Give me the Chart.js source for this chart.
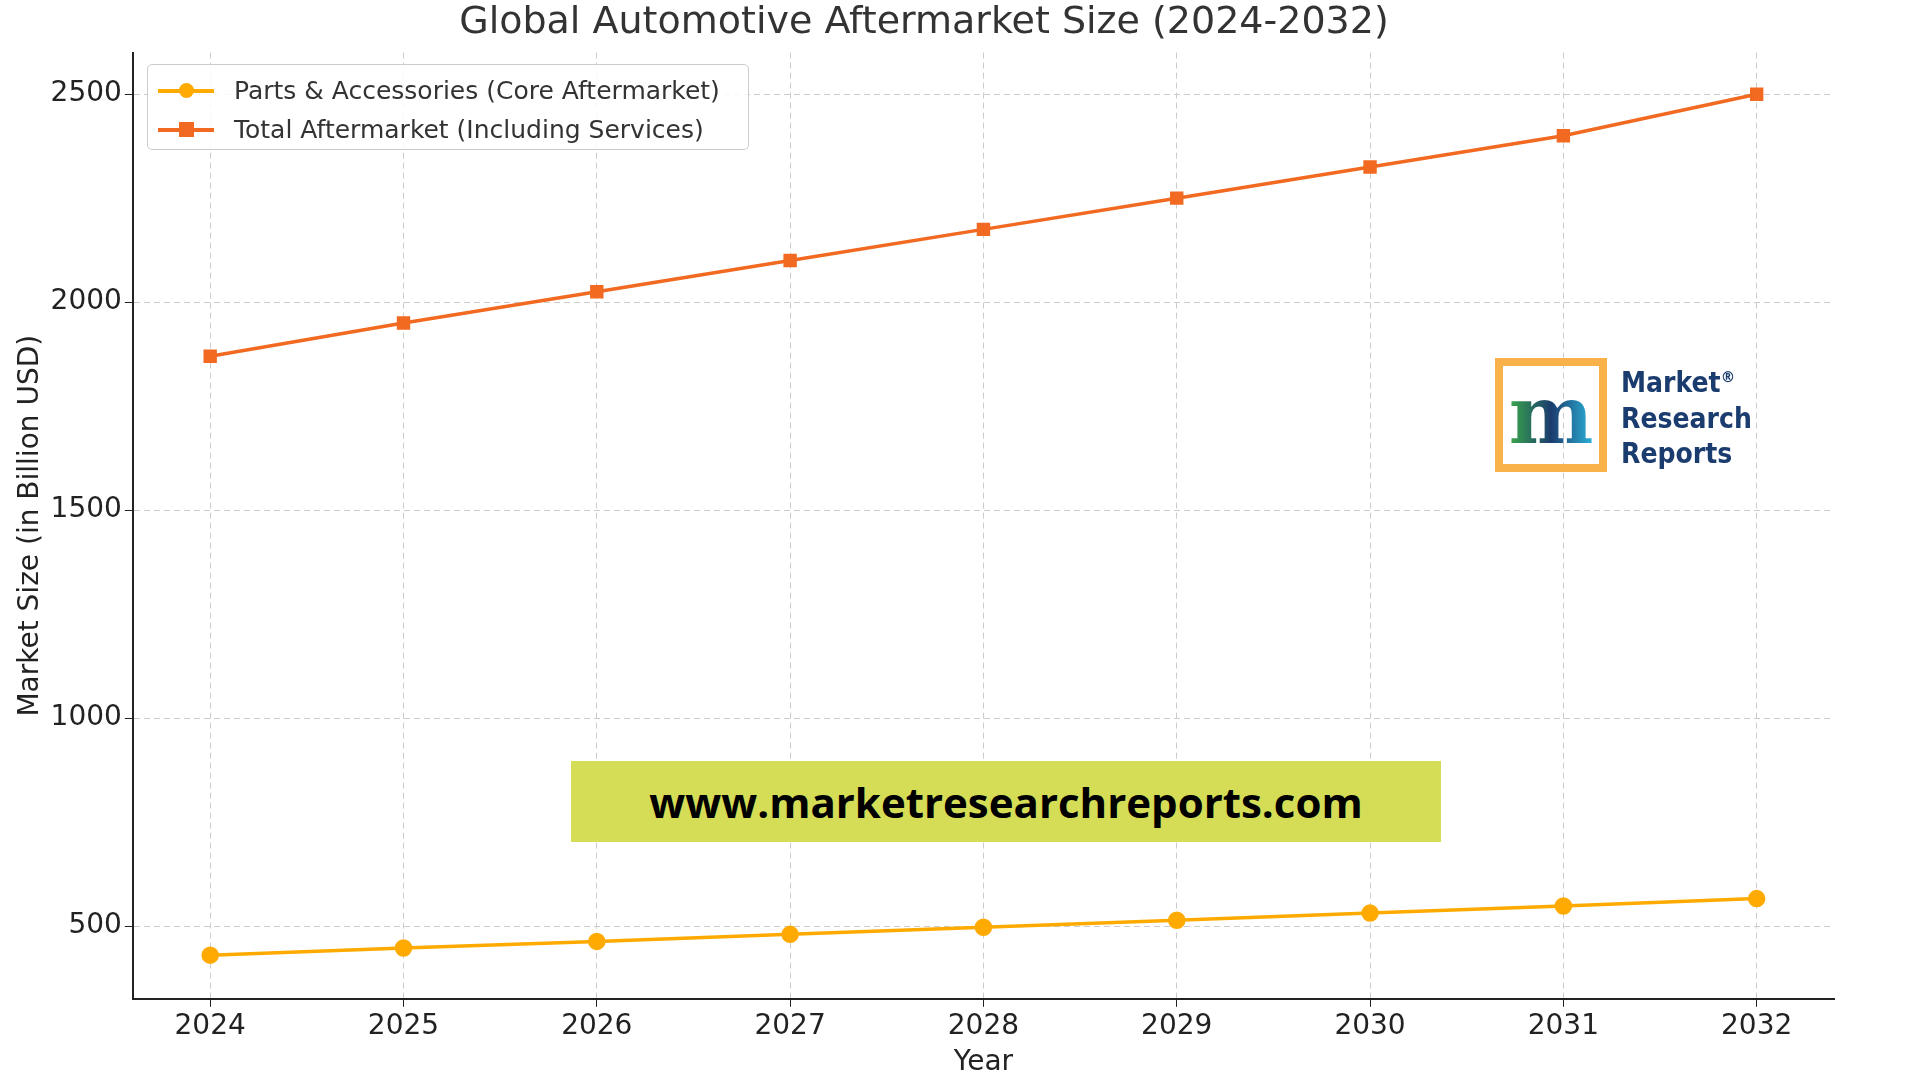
<!DOCTYPE html>
<html><head><meta charset="utf-8">
<script src="https://cdn.jsdelivr.net/npm/chart.js@4"></script>
<style>
html,body{margin:0;padding:0;background:#fff;}
#wrap{position:relative;width:1920px;height:1080px;}
#banner{position:absolute;left:571px;top:761px;width:870px;height:81px;background:#d4dd55;display:flex;align-items:center;justify-content:center;font:bold 42px "Open Sans","DejaVu Sans",sans-serif;color:#000;}
#logo{position:absolute;left:1495px;top:358px;display:flex;align-items:center;}
#logo .box{width:112px;height:114px;border:8px solid #f9b24a;box-sizing:border-box;display:flex;align-items:center;justify-content:center;font:bold 80px "DejaVu Serif",serif;color:#1b3c6e;}
#logo .txt{margin-left:14px;font:bold 28px "DejaVu Sans Condensed","DejaVu Sans",sans-serif;color:#1b3c6e;line-height:35px;}
#legend{position:absolute;left:147px;top:64px;width:602px;height:86px;border:1.5px solid #ccc;border-radius:5px;background:rgba(255,255,255,0.85);box-sizing:border-box;font:25px "DejaVu Sans",sans-serif;color:#333;padding:6px 0 0 10px;}
#legend .row{display:flex;align-items:center;height:39px;}
#legend .sw{position:relative;width:56px;height:4px;margin-right:20px;}
</style></head>
<body><div id="wrap"><canvas id="c" width="1920" height="1080"></canvas>
<div id="banner">www.marketresearchreports.com</div>
<div id="logo"><div class="box"><span style="background:linear-gradient(90deg,#3aa84a,#1b3c6e,#2bb3d9);-webkit-background-clip:text;color:transparent">m</span></div><div class="txt">Market<sup style="font-size:16px">®</sup><br>Research<br>Reports</div></div>
<div id="legend"></div>
</div>
<script>
const years=[2024,2025,2026,2027,2028,2029,2030,2031,2032];
const partsValues=[430,447,463,480,497,514,531,548,566];
const totalValues=[1870,1950,2025,2100,2175,2250,2325,2400,2500];
const yTicks=[500,1000,1500,2000,2500];
const seriesNames=['Parts & Accessories (Core Aftermarket)','Total Aftermarket (Including Services)'];
const seriesColors=['#ffaa00','#f26a21'];
const lg=document.getElementById('legend');
seriesNames.forEach((n,i)=>{
 const mk=i===0?'border-radius:50%;':'';
 lg.innerHTML+=`<div class="row"><div class="sw" style="background:${seriesColors[i]}"><div style="position:absolute;left:21px;top:-6px;width:15px;height:15px;background:${seriesColors[i]};${mk}"></div></div>${n.replace('&','&amp;')}</div>`;
});
Chart.defaults.font.family='"DejaVu Sans",sans-serif';
Chart.defaults.color='#333';
new Chart(document.getElementById('c'),{
type:'line',
data:{datasets:[
{label:seriesNames[0],data:years.map((y,i)=>({x:y,y:partsValues[i]})),borderColor:seriesColors[0],backgroundColor:seriesColors[0],pointStyle:'circle',pointRadius:7,borderWidth:3.5},
{label:seriesNames[1],data:years.map((y,i)=>({x:y,y:totalValues[i]})),borderColor:seriesColors[1],backgroundColor:seriesColors[1],pointStyle:'rect',pointRadius:7,borderWidth:3.5}
]},
options:{responsive:false,animation:false,
layout:{padding:{left:14,right:86,top:0,bottom:0}},
plugins:{title:{display:true,text:'Global Automotive Aftermarket Size (2024-2032)',font:{size:38,weight:'normal'},color:'#333',padding:{top:0,bottom:7}},
legend:{display:false}},
scales:{
x:{type:'linear',min:2023.6,max:2032.4,afterBuildTicks:a=>{a.ticks=years.map(v=>({value:v}));},
ticks:{font:{size:28},color:'#222',callback:v=>String(v)},
grid:{color:'#ccc',tickLength:8,tickColor:'#222'},border:{color:'#222',width:2,dash:[6,4]},
title:{display:true,text:'Year',font:{size:28},color:'#222',padding:0}},
y:{min:325,max:2600,afterBuildTicks:a=>{a.ticks=yTicks.map(v=>({value:v}));},
ticks:{font:{size:28},color:'#222',callback:v=>String(v)},
grid:{color:'#ccc',tickLength:8,tickColor:'#222'},border:{color:'#222',width:2,dash:[6,4]},
title:{display:true,text:'Market Size (in Billion USD)',font:{size:28},color:'#222',padding:0}}
}}
});
</script></body></html>
